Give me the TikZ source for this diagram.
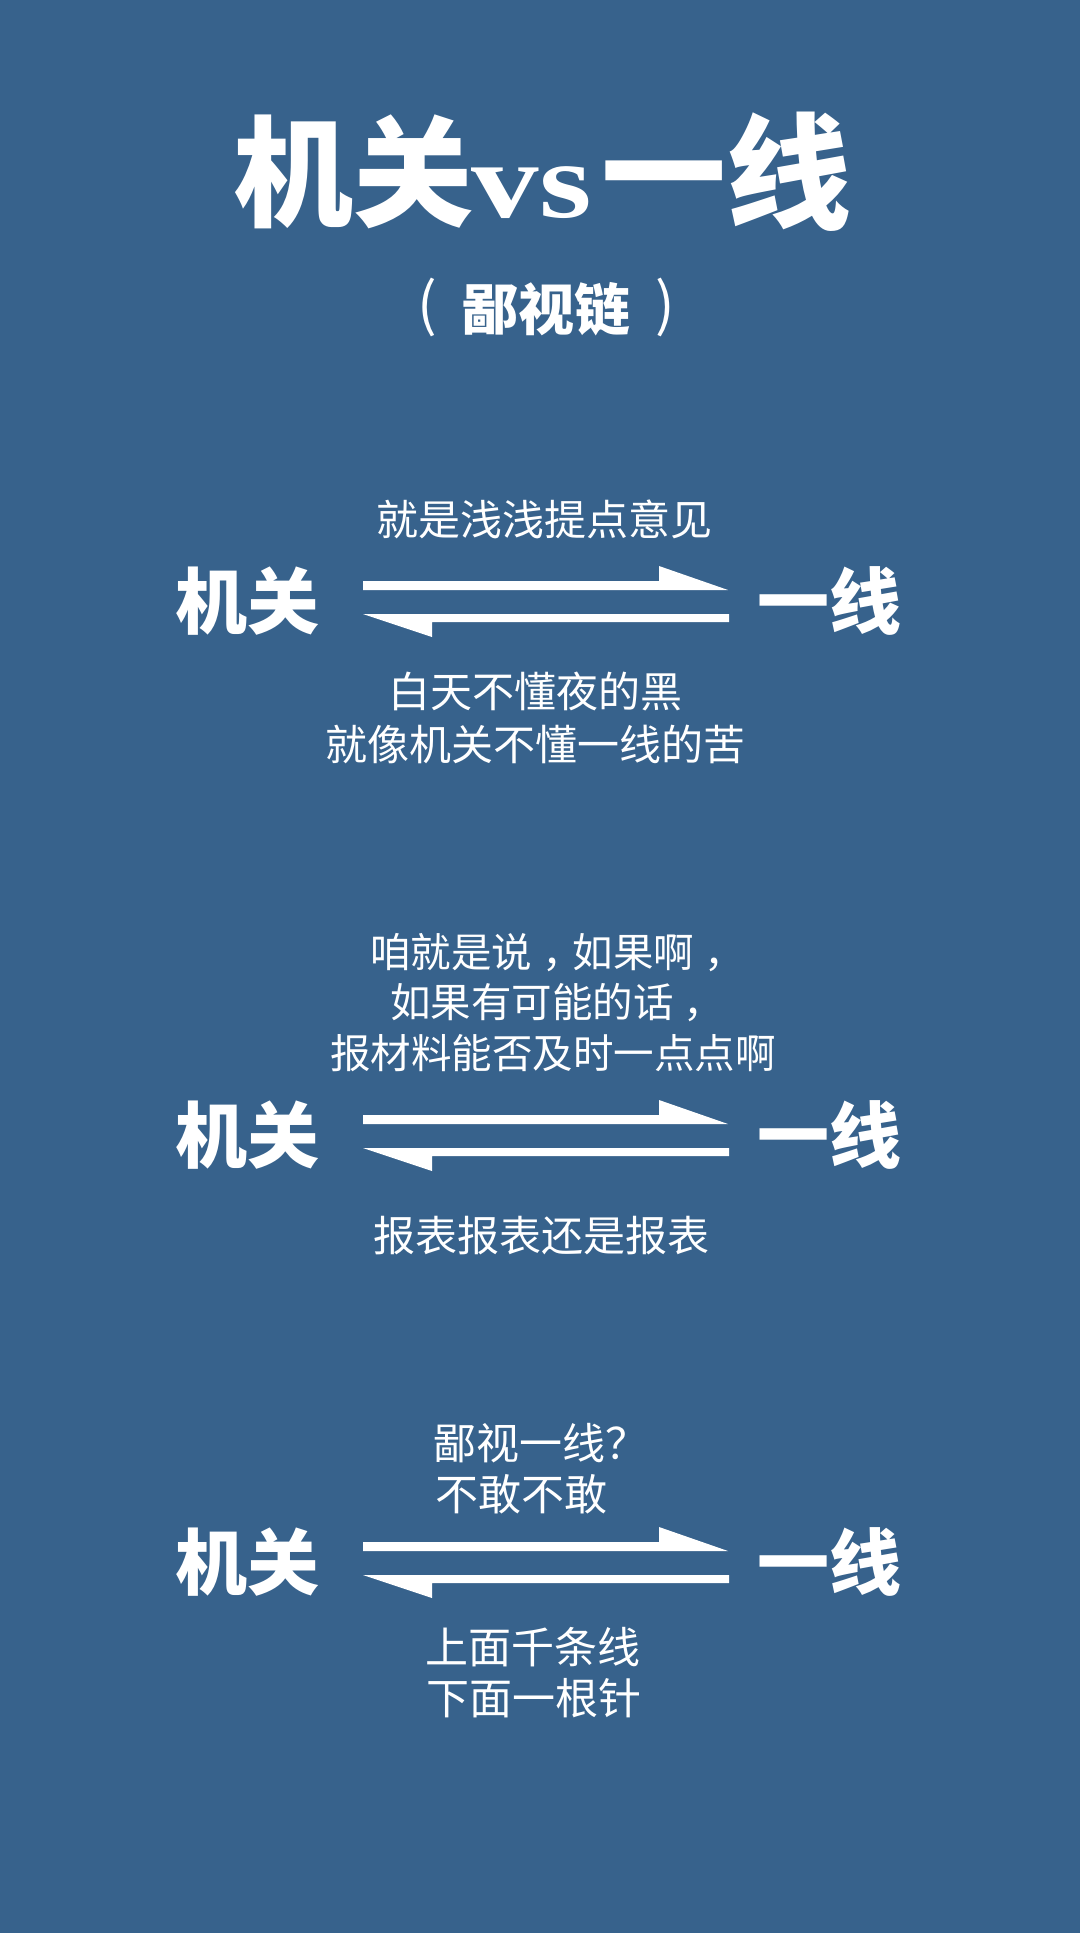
\documentclass[tikz,border=0pt]{standalone}
\usepackage{fontspec}
\usepackage{graphicx}
\newfontfamily\cjk{Noto Sans CJK SC}
\newfontfamily\vsfont{Liberation Serif}
\definecolor{bgblue}{HTML}{37628C}
\newcommand\cc{\kern10pt，\kern-10pt}
\tikzset{
  txt/.style={text=white, inner sep=0pt, anchor=west},
  body/.style={txt, font=\cjk\fontsize{#1}{#1}\selectfont},
  body/.default=42,
  side/.style={text=white, inner sep=0pt, font=\cjk\bfseries\fontsize{72}{72}\selectfont},
  titlecjk/.style={text=white, inner sep=0pt, font=\cjk\bfseries\fontsize{#1}{#1}\selectfont},
  titlecjk/.default=120,
  paren/.style={text=white, inner sep=0pt, font=\cjk\fontsize{58}{58}\selectfont},
  harppair/.pic={
    \fill[white] (0,0) -- (296,0) -- (296,-15) -- (365,9) -- (0,9) -- cycle;
    \fill[white] (0,33) -- (69,56) -- (69,41) -- (366,41) -- (366,33) -- cycle;
  }
}
\begin{document}
\begin{tikzpicture}[x=1pt,y=-1pt]
\fill[bgblue] (0,0) rectangle (1080,1933);
\useasboundingbox (0,0) rectangle (1080,1933);

% title
\node[titlecjk] (t1) at (353,172) {机关};
\node[text=white, inner sep=0pt, anchor=base, font=\vsfont\bfseries\fontsize{108}{108}\selectfont] (t2) at (532,217) {\scalebox{1.25}[1]{vs}};
\node[titlecjk=125] (t3) at (726,172) {一线};
\node[text=white, inner sep=0pt, font=\cjk\bfseries\fontsize{56}{56}\selectfont] (sub) at (546,309) {鄙视链};
\node[paren] (pl) at (427,307) {(};
\node[paren] (pr) at (665,307) {)};

% section 1
\node[body] (a1) at (376,519) {就是浅浅提点意见};
\node[side] (jg1) at (247,601) {机关};
\node[side] (yx1) at (829,601) {一线};
\pic (h1) at (363,581) {harppair};
\node[body] (b1) at (388,691) {白天不懂夜的黑};
\node[body] (b2) at (325,744) {就像机关不懂一线的苦};

% section 2
\node[body=40.5] (c1) at (370,953) {咱就是说\cc 如果啊\cc};
\node[body=40.5] (c2) at (390,1003) {如果有可能的话\cc};
\node[body=40.5] (c3) at (330,1053) {报材料能否及时一点点啊};
\node[side] (jg2) at (247,1135) {机关};
\node[side] (yx2) at (829,1135) {一线};
\pic (h2) at (363,1115) {harppair};
\node[body] (d1) at (373,1236) {报表报表还是报表};

% section 3
\node[body=43] (e1) at (433,1443) {鄙视一线？};
\node[body=43] (e2) at (435,1494) {不敢不敢};
\node[side] (jg3) at (247,1562) {机关};
\node[side] (yx3) at (829,1562) {一线};
\pic (h3) at (363,1542) {harppair};
\node[body=43] (f1) at (425,1647) {上面千条线};
\node[body=43] (f2) at (426,1698) {下面一根针};
\end{tikzpicture}
\end{document}
